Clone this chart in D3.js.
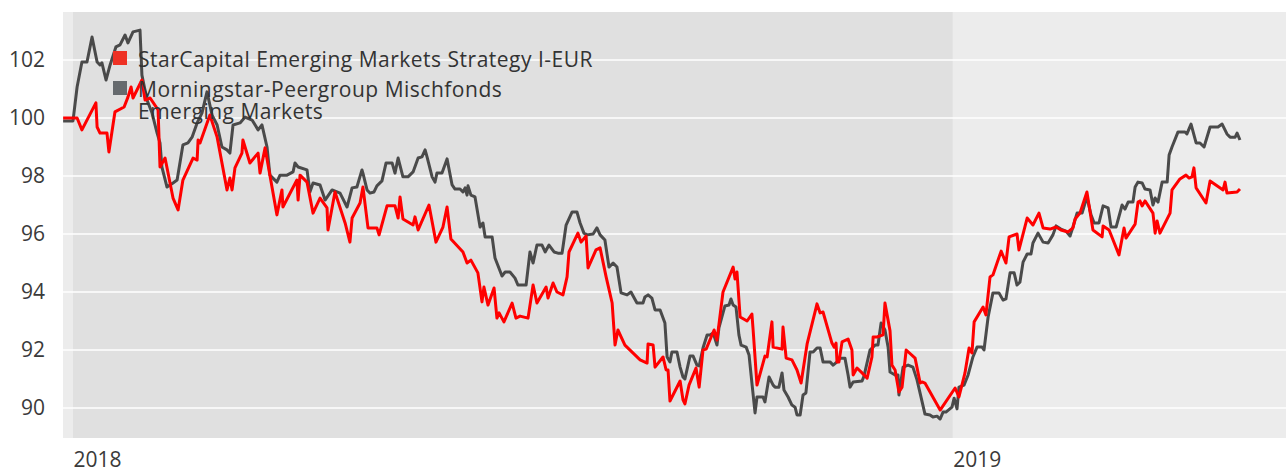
<!DOCTYPE html>
<html>
<head>
<meta charset="utf-8">
<script src="https://cdn.jsdelivr.net/npm/d3@7"></script>
<style>
  body { margin: 0; background: #fff; }
  svg { display: block; font-family: "Open Sans", "DejaVu Sans", sans-serif; }
</style>
</head>
<body>
<svg id="chart"></svg>
<script>
// day offsets from 2018-01-01 and index values
const starCapital = [
  [-4.1,100.00],[1.7,100.00],[3.7,99.59],[9.5,100.52],[10.0,99.69],[11.2,99.48],[14.1,99.48],[14.9,98.83],
  [17.4,100.21],[21.2,100.38],[22.8,100.72],[24.1,101.07],[24.9,100.69],[28.6,101.31],[29.9,100.62],[32.0,100.69],
  [35.3,100.28],[36.1,98.31],[38.2,98.62],[41.5,97.24],[43.6,96.83],[45.6,97.86],[49.8,98.62],[51.5,98.55],
  [51.9,99.24],[52.7,99.14],[56.8,100.10],[59.8,99.34],[63.9,97.52],[65.1,97.93],[66.0,97.52],[67.2,98.28],
  [70.1,98.79],[70.5,99.24],[73.4,98.45],[76.8,98.79],[77.6,98.10],[79.7,98.97],[84.6,96.66],[86.7,97.52],
  [87.1,96.93],[92.9,97.86],[93.4,97.17],[94.2,98.03],[97.1,97.79],[99.6,96.72],[102.5,97.24],[105.4,96.90],
  [105.8,96.14],[108.7,97.45],[112.9,96.38],[114.9,95.72],[115.8,96.55],[119.1,97.07],[120.3,97.62],[122.4,96.21],
  [126.1,96.21],[127.0,95.97],[130.3,96.97],[133.6,96.97],[134.9,96.55],[135.7,97.28],[136.9,96.52],[141.1,96.31],
  [141.9,96.59],[143.2,96.14],[147.7,97.00],[150.6,95.72],[153.5,96.24],[155.2,96.93],[156.8,95.83],[161.8,95.38],
  [163.5,95.00],[165.1,95.10],[168.0,94.66],[169.7,93.66],[170.5,94.17],[172.2,93.55],[174.7,94.14],[175.9,93.10],
  [176.8,93.28],[178.8,92.97],[182.2,93.62],[183.8,93.10],[185.5,93.17],[188.8,93.10],[190.9,94.24],[192.5,93.62],
  [196.3,94.17],[197.1,93.79],[199.2,94.31],[200.8,94.00],[203.3,93.90],[205.0,94.52],[205.8,95.38],[209.5,96.03],
  [210.8,95.72],[212.9,95.93],[213.7,94.83],[217.0,95.45],[218.7,95.52],[221.2,94.52],[223.7,93.62],[224.9,92.17],
  [226.1,92.69],[229.0,92.17],[235.3,91.66],[238.2,91.55],[238.6,92.21],[240.7,92.17],[241.5,91.41],[244.8,91.76],
  [246.1,91.31],[246.9,91.31],[247.7,90.24],[251.9,90.93],[253.1,90.28],[253.9,90.14],[255.6,90.79],[258.5,91.38],
  [259.8,90.72],[261.4,92.00],[262.7,92.03],[266.0,92.69],[267.2,92.34],[269.7,94.00],[273.9,94.86],[274.7,94.45],
  [275.5,94.69],[276.8,93.14],[279.7,93.00],[281.7,93.24],[282.2,92.69],[283.8,90.79],[287.1,91.79],[288.0,91.76],
  [290.0,92.97],[290.5,92.10],[294.2,92.03],[294.6,92.79],[295.9,91.72],[298.3,91.66],[300.4,91.31],[302.1,90.86],
  [304.6,92.21],[308.3,93.45],[308.7,93.59],[310.0,93.28],[311.2,93.31],[314.9,92.24],[315.8,92.10],[316.6,92.24],
  [317.0,91.59],[317.8,91.59],[319.1,92.28],[321.6,92.38],[323.2,92.00],[323.7,91.14],[325.3,91.38],[327.4,91.21],
  [329.5,91.03],[331.5,91.76],[332.0,92.45],[333.6,92.45],[336.1,92.52],[336.9,93.62],[339.0,92.66],[339.8,91.48],
  [341.1,91.31],[342.7,90.55],[344.0,90.72],[345.7,92.00],[349.4,91.72],[351.5,90.86],[352.3,90.90],[353.5,90.86],
  [359.8,89.93],[366.0,90.69],[367.6,90.38],[370.1,91.21],[371.8,92.07],[373.0,91.90],[373.9,92.97],[377.6,93.48],
  [378.8,93.21],[380.5,94.52],[381.7,94.59],[385.1,95.41],[387.1,95.00],[388.4,95.90],[391.7,96.00],[392.5,95.45],
  [395.9,96.55],[398.3,96.31],[400.8,96.72],[402.5,96.21],[405.4,96.17],[407.9,96.24],[409.9,96.14],[412.9,96.07],
  [414.9,96.21],[415.8,96.52],[417.8,96.72],[420.7,97.45],[423.2,96.14],[427.0,95.90],[427.4,96.28],[429.9,96.14],
  [434.0,95.28],[436.1,96.21],[436.9,95.86],[440.7,96.34],[441.9,97.10],[442.7,97.14],[443.6,96.97],[444.8,97.14],
  [448.1,96.72],[449.0,96.03],[449.8,96.45],[451.0,96.03],[455.2,96.72],[456.0,97.52],[459.3,97.90],[461.8,98.03],
  [463.1,97.93],[464.3,97.97],[465.1,98.28],[466.0,97.59],[470.1,97.07],[471.8,97.83],[477.2,97.52],[478.0,97.79],
  [478.8,97.41],[483.0,97.45],[484.2,97.55]
];

const peergroup = [
  [-4.1,99.90],[0.0,99.90],[1.7,101.07],[3.7,101.93],[5.8,101.93],[7.9,102.79],[10.0,101.93],[11.2,101.83],
  [12.0,101.90],[13.7,101.31],[15.4,101.83],[17.8,102.45],[19.5,102.52],[21.6,102.86],[22.8,102.59],[24.9,102.97],
  [27.8,103.03],[28.6,101.48],[30.7,100.62],[32.8,100.17],[34.9,99.48],[36.1,99.14],[36.9,98.31],[39.0,97.62],
  [41.5,97.76],[43.2,97.86],[45.6,99.07],[47.7,99.14],[49.4,99.34],[51.5,99.83],[53.5,100.17],[55.6,100.90],
  [57.7,100.10],[59.8,99.76],[61.8,99.00],[63.9,98.90],[65.1,98.79],[66.4,99.76],[69.3,99.83],[71.4,100.03],
  [74.3,99.93],[76.8,99.59],[78.4,99.76],[80.5,99.00],[81.7,98.03],[84.6,97.79],[85.9,98.03],[88.8,98.03],
  [91.3,98.14],[92.1,98.45],[93.4,98.31],[97.1,98.21],[98.3,97.45],[99.6,97.76],[102.5,97.69],[104.6,97.17],
  [107.5,97.52],[110.8,97.41],[113.7,96.93],[115.8,97.59],[117.8,97.62],[119.9,98.21],[120.3,98.10],[122.0,97.52],
  [123.2,97.41],[124.9,97.45],[126.1,97.66],[128.2,97.83],[129.9,98.45],[132.4,98.45],[133.6,98.10],[134.9,98.62],
  [136.9,97.97],[139.0,97.97],[141.1,98.14],[143.2,98.62],[144.8,98.66],[146.1,98.90],[146.9,98.66],[149.0,97.97],
  [150.2,97.79],[151.0,98.10],[153.1,98.10],[155.2,98.59],[157.3,97.69],[158.5,97.55],[160.6,97.55],[161.8,97.45],
  [162.7,97.59],[163.5,97.34],[163.9,97.66],[165.1,97.34],[166.8,97.28],[168.9,96.24],[170.1,96.38],[171.0,95.90],
  [173.9,95.90],[175.1,95.17],[178.0,94.55],[179.3,94.69],[181.3,94.69],[183.4,94.48],[184.6,94.24],[188.0,94.24],
  [189.6,95.38],[190.9,95.00],[192.5,95.62],[194.6,95.62],[195.9,95.38],[197.5,95.62],[199.6,95.38],[201.2,95.34],
  [202.9,95.34],[203.3,95.55],[204.6,96.31],[207.1,96.76],[209.1,96.76],[210.4,96.38],[212.0,96.03],[213.3,95.97],
  [215.8,96.00],[217.4,96.21],[218.7,95.97],[220.7,95.79],[222.4,94.86],[224.1,95.00],[225.7,94.86],[227.4,93.97],
  [229.9,93.90],[231.5,94.00],[234.0,93.62],[236.5,93.62],[237.3,93.83],[238.6,93.90],[240.2,93.79],[241.5,93.38],
  [243.6,93.38],[245.6,92.93],[246.5,91.76],[247.7,91.59],[248.5,91.93],[250.6,91.93],[251.9,91.41],[253.1,91.07],
  [253.9,91.00],[256.0,91.79],[257.3,91.79],[258.9,91.48],[259.8,91.45],[261.4,92.07],[263.1,92.52],[264.3,92.52],
  [265.6,92.59],[267.2,92.17],[268.0,92.76],[270.5,93.52],[272.2,93.55],[273.0,93.76],[273.9,93.55],[275.1,93.48],
  [276.3,92.52],[277.2,92.17],[279.3,92.10],[280.5,91.83],[281.7,90.86],[283.0,89.83],[283.8,90.38],[286.3,90.38],
  [287.1,90.21],[288.8,91.07],[290.5,90.79],[291.3,90.72],[292.9,90.72],[294.2,91.21],[295.0,90.62],[296.7,90.38],
  [298.3,90.10],[299.6,90.03],[300.4,89.76],[301.7,89.76],[302.9,90.45],[304.1,90.52],[305.8,91.93],[307.1,91.93],
  [308.7,92.07],[310.0,92.07],[311.2,91.59],[314.1,91.59],[315.4,91.48],[317.0,91.59],[318.3,91.72],[320.3,91.72],
  [321.6,91.14],[322.4,90.72],[323.7,90.90],[327.4,90.93],[328.2,91.10],[330.7,92.00],[332.8,92.17],[334.0,92.17],
  [335.3,92.93],[336.9,92.69],[338.2,92.10],[339.0,91.24],[341.1,91.14],[342.3,91.14],[342.7,90.45],[344.4,91.41],
  [346.5,91.48],[348.5,91.41],[350.2,90.97],[353.5,89.79],[355.6,89.76],[356.8,89.69],[358.5,89.72],[359.8,89.62],
  [361.0,89.86],[362.2,89.86],[364.7,90.03],[365.6,90.34],[366.8,89.97],[367.6,90.72],[369.7,90.79],[371.4,91.14],
  [373.4,91.76],[375.1,92.10],[377.2,92.10],[378.0,92.00],[379.7,93.14],[381.7,93.97],[384.2,93.97],[385.9,93.72],
  [387.1,93.76],[388.8,94.66],[390.5,94.66],[391.7,94.24],[392.9,94.34],[394.2,95.03],[395.9,95.31],[397.5,95.31],
  [398.3,95.69],[400.4,96.03],[402.5,95.72],[404.6,95.69],[406.6,95.97],[407.9,96.28],[409.9,96.17],[412.0,96.10],
  [413.7,95.93],[414.9,96.24],[416.6,96.72],[418.7,96.72],[420.7,97.28],[422.4,96.66],[423.7,96.38],[425.7,96.38],
  [427.4,96.97],[429.5,96.90],[430.7,96.24],[432.8,96.24],[435.3,97.00],[436.5,96.86],[437.8,97.10],[439.8,97.10],
  [440.7,97.62],[441.9,97.79],[443.6,97.76],[444.8,97.55],[446.9,97.52],[448.1,97.00],[449.0,97.24],[450.2,97.10],
  [451.9,97.79],[454.0,97.79],[454.8,98.72],[456.0,99.00],[458.5,99.52],[461.4,99.52],[462.2,99.45],[463.9,99.79],
  [466.0,99.14],[467.6,99.14],[469.3,99.00],[471.8,99.69],[475.1,99.69],[476.8,99.79],[478.8,99.45],[480.1,99.34],
  [482.2,99.34],[483.0,99.48],[484.2,99.24]
];

const seriesNames = ["StarCapital Emerging Markets Strategy I-EUR", "Morningstar-Peergroup Mischfonds|Emerging Markets"];
const yearTicks = ["2018-01-01", "2019-01-01"];
const yTicks = [90, 92, 94, 96, 98, 100, 102];
const xRange = [-4.15, 503.3];      // visible days
const yRange = [88.966, 103.655];

const width = 1286, height = 472;
const margin = {top: 12, right: 0, bottom: 34, left: 63};
const innerW = width - margin.left - margin.right;
const innerH = height - margin.top - margin.bottom;

const base = Date.UTC(2018, 0, 1);
const toDate = d => new Date(base + d * 864e5);

const svg = d3.select("#chart").attr("width", width).attr("height", height);
const chart = svg.append("g").attr("transform", `translate(${margin.left},${margin.top})`);

const x = d3.scaleUtc().domain(xRange.map(toDate)).range([0, innerW]);
const y = d3.scaleLinear().domain(yRange).range([innerH, 0]);

// backgrounds
chart.append("rect").attr("width", innerW).attr("height", innerH).attr("fill", "#ececec");
const y0 = new Date(yearTicks[0]), y1 = new Date(yearTicks[1]);
chart.append("rect")
  .attr("x", x(y0)).attr("width", x(y1) - x(y0))
  .attr("height", innerH).attr("fill", "#e0e0e0");

// grid
chart.selectAll(".grid").data(yTicks).enter().append("line")
  .attr("x1", 0).attr("x2", innerW)
  .attr("y1", d => y(d)).attr("y2", d => y(d))
  .attr("stroke", "#fff").attr("stroke-width", 1.5);

// y axis
const yaxis = chart.append("g").attr("transform", "translate(-18,0)")
  .call(d3.axisLeft(y).tickValues(yTicks).tickSize(0).tickPadding(0));
yaxis.select(".domain").remove();
yaxis.selectAll("text").attr("font-size", 21).attr("fill", "#3a3a3a")
  .attr("font-family", "'Open Sans', sans-serif");

// x axis
const xaxis = chart.append("g").attr("transform", `translate(0,${innerH})`)
  .call(d3.axisBottom(x).tickValues(yearTicks.map(s => new Date(s)))
    .tickFormat(d3.utcFormat("%Y")).tickSize(0).tickPadding(14));
xaxis.select(".domain").remove();
xaxis.selectAll("text").attr("font-size", 21).attr("fill", "#3a3a3a")
  .attr("text-anchor", "start").attr("font-family", "'Open Sans', sans-serif");

// lines
const line = d3.line().x(d => x(toDate(d[0]))).y(d => y(d[1]));
chart.append("path").datum(peergroup).attr("d", line)
  .attr("fill", "none").attr("stroke", "#4a4a4a").attr("stroke-width", 3)
  .attr("stroke-linejoin", "round");
chart.append("path").datum(starCapital).attr("d", line)
  .attr("fill", "none").attr("stroke", "#ff0000").attr("stroke-width", 3)
  .attr("stroke-linejoin", "round");

// legend
const legend = svg.append("g").attr("transform", "translate(113,51)");
const legendColors = ["#ee3124", "#666a6e"];
const rowY = [0, 30];
seriesNames.forEach((name, i) => {
  const g = legend.append("g").attr("transform", `translate(0,${rowY[i]})`);
  g.append("rect").attr("width", 14).attr("height", 14).attr("fill", legendColors[i]);
  const t = g.append("text").attr("x", 25).attr("y", 16)
    .attr("font-size", 21).attr("letter-spacing", 0.5).attr("fill", "#333");
  name.split("|").forEach((part, j) => {
    t.append("tspan").attr("x", 25).attr("dy", j ? 22 : 0).text(part);
  });
});
</script>
</body>
</html>
